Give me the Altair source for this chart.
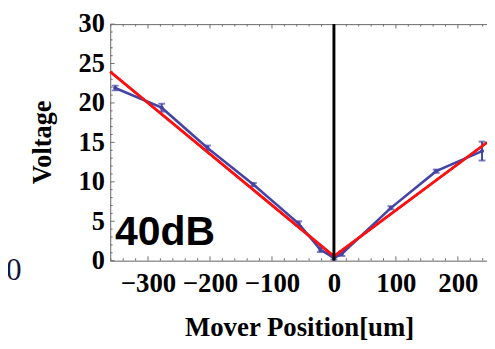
import altair as alt
import pandas as pd

# measured data (blue, with error bars)
pos = [-353, -278, -204, -130, -57, -22, 0, 13, 92, 165, 239]
volt = [21.9, 19.4, 14.3, 9.65, 4.7, 1.4, 0.35, 0.9, 6.7, 11.35, 13.9]
err = [0.3, 0.5, 0.3, 0.2, 0.3, 0.3, 0.2, 0.3, 0.2, 0.2, 1.2]

# fit (red)
fit_x = [-361, 0, 247]
fit_y = [23.95, 0.55, 15.0]

x_major = [-300, -200, -100, 0, 100, 200]
x_minor = [-360, -340, -320, -280, -260, -240, -220, -180, -160, -140, -120,
           -80, -60, -40, -20, 20, 40, 60, 80, 120, 140, 160, 180, 220, 240]
y_major = [0, 5, 10, 15, 20, 25, 30]
y_minor = [1, 2, 3, 4, 6, 7, 8, 9, 11, 12, 13, 14, 16, 17, 18, 19, 21, 22, 23, 24, 26, 27, 28, 29]

W, H = 387, 243
SERIF = "Liberation Serif"
BLUE = "#4444a4"
FRAME = "#6e6e6e"

df = pd.DataFrame({"x": pos, "y": volt, "lo": [v - e for v, e in zip(volt, err)],
                   "hi": [v + e for v, e in zip(volt, err)]})
fit = pd.DataFrame({"x": fit_x, "y": fit_y})

xs = alt.Scale(domain=[-361, 247], nice=False, zero=False)
ys = alt.Scale(domain=[0, 30], nice=False)

xaxis = alt.Axis(values=x_major, ticks=False, tickSize=0, grid=False, domainColor=FRAME,
                 labelFont=SERIF, labelFontSize=27.5, labelFontWeight="bold", labelColor="black",
                 labelPadding=10, labelFlush=False, labelOverlap=False,
                 title="Mover Position[um]", titleFont=SERIF, titleFontSize=27.5,
                 titleFontWeight="bold", titleColor="black", titleBaseline="alphabetic",
                 titleY=77, titleX=194)
yaxis = alt.Axis(values=y_major, ticks=False, tickSize=0, grid=False, domainColor=FRAME,
                 labelFont=SERIF, labelFontSize=27, labelFontWeight="bold", labelColor="black",
                 labelPadding=6, labelFlush=False, labelOverlap=False,
                 title="Voltage", titleFont=SERIF, titleFontSize=27, titleFontWeight="bold",
                 titleColor="black", titleX=-55, titleY=121, titleAngle=-90,
                 titleBaseline="bottom", titleAlign="center")

base = alt.Chart(df)

fitline = alt.Chart(fit).mark_line(color="#ff1010", strokeWidth=2.6).encode(
    x=alt.X("x:Q", scale=xs, axis=xaxis), y=alt.Y("y:Q", scale=ys, axis=yaxis))

blue = base.mark_line(color=BLUE, strokeWidth=2.6).encode(
    x=alt.X("x:Q", scale=xs), y=alt.Y("y:Q", scale=ys))
pts = base.mark_point(color=BLUE, filled=True, size=18, opacity=1).encode(
    x=alt.X("x:Q", scale=xs), y=alt.Y("y:Q", scale=ys))
ebar = base.mark_rule(color=BLUE, strokeWidth=2).encode(
    x=alt.X("x:Q", scale=xs), y=alt.Y("lo:Q", scale=ys), y2="hi:Q")
cap_lo = base.mark_tick(color=BLUE, thickness=2, size=7, orient="horizontal").encode(
    x=alt.X("x:Q", scale=xs), y=alt.Y("lo:Q", scale=ys))
cap_hi = base.mark_tick(color=BLUE, thickness=2, size=7, orient="horizontal").encode(
    x=alt.X("x:Q", scale=xs), y=alt.Y("hi:Q", scale=ys))

zero = alt.Chart(pd.DataFrame({"x": [0]})).mark_rule(color="black", strokeWidth=3).encode(
    x=alt.X("x:Q", scale=xs), y=alt.value(0), y2=alt.value(H))

top_frame = alt.Chart(pd.DataFrame({"a": [0]})).mark_rule(color=FRAME, strokeWidth=1).encode(
    x=alt.value(0), x2=alt.value(W + 5), y=alt.value(0.5))

xmaj = pd.DataFrame({"x": x_major})
xmin = pd.DataFrame({"x": x_minor})
ymaj = pd.DataFrame({"y": y_major})
ymin = pd.DataFrame({"y": y_minor})

def xticks(d, L):
    b = alt.Chart(d).mark_rule(color=FRAME, strokeWidth=1)
    return (b.encode(x=alt.X("x:Q", scale=xs), y=alt.value(H), y2=alt.value(H - L)) +
            b.encode(x=alt.X("x:Q", scale=xs), y=alt.value(0), y2=alt.value(L)))

def yticks(d, L):
    b = alt.Chart(d).mark_rule(color=FRAME, strokeWidth=1)
    return b.encode(y=alt.Y("y:Q", scale=ys), x=alt.value(0), x2=alt.value(L))

label = alt.Chart(pd.DataFrame({"t": ["40dB"]})).mark_text(
    font="Liberation Sans", fontSize=42, fontWeight="bold", align="left",
    baseline="alphabetic", color="black").encode(text="t:N", x=alt.value(5), y=alt.value(227))

stray = alt.Chart(pd.DataFrame({"t": ["50"]})).mark_text(
    font=SERIF, fontSize=32, align="right", baseline="middle", color="#14143a").encode(
    text="t:N", x=alt.value(-91), y=alt.value(253))

chart = alt.layer(
    fitline, xticks(xmaj, 4.5), xticks(xmin, 2.5), yticks(ymaj, 4.5), yticks(ymin, 2.5),
    top_frame, blue, ebar, cap_lo, cap_hi, pts, fitline, zero, label, stray
).properties(
    width=W, height=H,
    autosize=alt.AutoSizeParams(type="none"),
    padding={"left": 105, "top": 12, "right": 0, "bottom": 80},
).configure_view(stroke=None).configure(background="white")

chart.save("out.html", embed_options={"renderer": "svg", "actions": False})
